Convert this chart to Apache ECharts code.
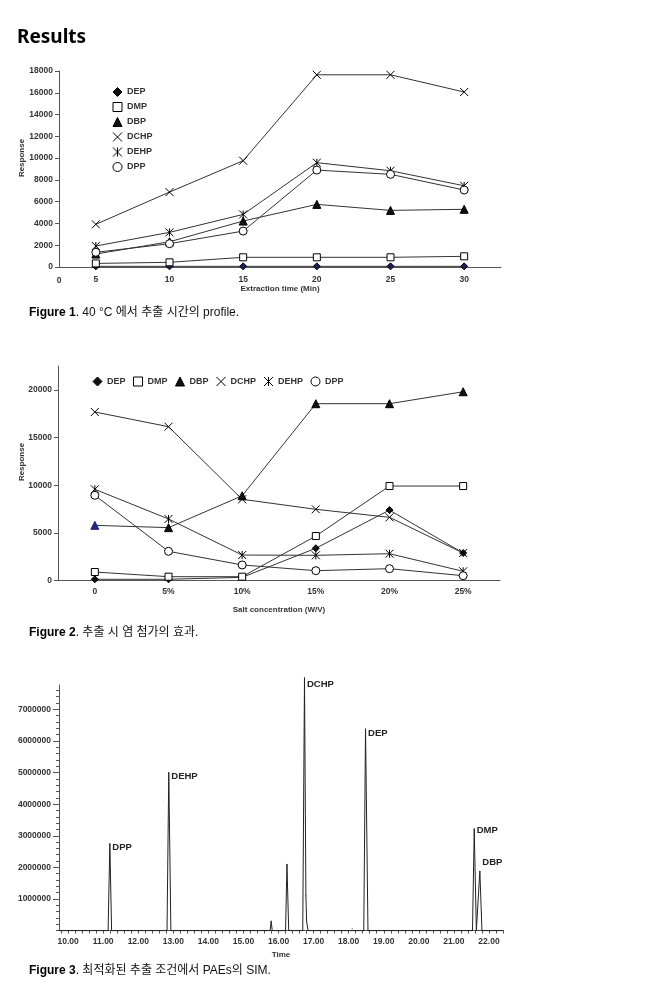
<!DOCTYPE html>
<html><head><meta charset="utf-8">
<script src="https://cdn.jsdelivr.net/npm/echarts@6/dist/echarts.min.js"></script>
<style>html,body{margin:0;padding:0;background:#fff}#c{width:650px;height:999px}</style>
</head><body><div id="c"></div>
<script>
// ---------- DATA ----------
const compounds = ['DEP', 'DMP', 'DBP', 'DCHP', 'DEHP', 'DPP'];

// Figure 1: extraction time profile at 40 °C
const timeCats = ['5', '10', '15', '20', '25', '30'];
const timeDEP  = [60, 60, 60, 60, 60, 60];
const timeDMP  = [330, 430, 890, 890, 890, 980];
const timeDBP  = [1190, 2320, 4220, 5750, 5200, 5300];
const timeDCHP = [3920, 6880, 9760, 17650, 17650, 16070];
const timeDEHP = [1930, 3180, 4830, 9580, 8840, 7460];
const timeDPP  = [1350, 2140, 3300, 8900, 8510, 7070];

// Figure 2: salt concentration effect
const saltCats = ['0', '5%', '10%', '15%', '20%', '25%'];
const saltDEP  = [150, 150, 350, 3400, 7400, 2900];
const saltDMP  = [910, 420, 420, 4680, 9920, 9920];
const saltDBP  = [5800, 5560, 8900, 18550, 18550, 19800];
const saltDCHP = [17680, 16140, 8530, 7480, 6640, 2900];
const saltDEHP = [9580, 6470, 2690, 2660, 2830, 985];
const saltDPP  = [8950, 3080, 1650, 1050, 1260, 525];
const saltYTicks = [0, 5000, 10000, 15000, 20000];

// Figure 3: SIM chromatogram (time in min, abundance)
const chromTime  = [9.74, 11.14, 11.19, 11.24, 12.82, 12.87, 12.93, 15.76, 15.79, 15.82, 16.20, 16.24, 16.29,
                    16.69, 16.74, 16.78, 16.80, 16.84, 18.08, 18.10, 18.12, 18.43, 18.48, 18.55,
                    21.53, 21.58, 21.64, 21.69, 21.74, 21.80, 22.40];
const chromValue = [0, 0, 2750000, 0, 0, 5000000, 0, 0, 300000, 0, 0, 2100000, 0,
                    0, 8000000, 1100000, 300000, 0, 0, 60000, 0, 0, 6380000, 0,
                    0, 3220000, 0, 0, 1880000, 0, 0];
const chromLabel = ['', '', 'DPP', '', '', 'DEHP', '', '', '', '', '', '', '',
                    '', 'DCHP', '', '', '', '', '', '', '', 'DEP', '',
                    '', 'DMP', '', '', 'DBP', '', ''];
const chromXLabels = [10, 11, 12, 13, 14, 15, 16, 17, 18, 19, 20, 21, 22];
const chromYLabels = [1000000, 2000000, 3000000, 4000000, 5000000, 6000000, 7000000];

// ---------- STYLE ----------
const FONT = '"Liberation Sans Narrow", "Liberation Sans", "Noto Sans CJK KR", sans-serif';
const CAPFONT = '"Liberation Sans Narrow", "Liberation Sans", "Noto Sans CJK KR", sans-serif';
const TXT = '#333';
const AX = '#555';
const SYM = {
  DEP: 'diamond', DMP: 'rect', DBP: 'triangle',
  DCHP: 'path://M0,0L10,10M10,0L0,10',
  DEHP: 'path://M0,0L10,10M10,0L0,10M5,0L5,10',
  DPP: 'circle'
};
const FILL = { DEP: '#111', DMP: '#fff', DBP: '#111', DCHP: '#000', DEHP: '#000', DPP: '#fff' };
const SIZE = { DEP: 7, DMP: 7, DBP: 8, DCHP: 8, DEHP: 8, DPP: 8 };

function lineSeries(name, data, idx, fillOverride) {
  return {
    type: 'line', name, data, xAxisIndex: idx, yAxisIndex: idx,
    symbol: SYM[name], symbolSize: SIZE[name], showSymbol: true,
    itemStyle: { color: fillOverride || FILL[name], borderColor: '#000', borderWidth: 1 },
    lineStyle: { color: '#333', width: 1 },
    emphasis: { disabled: true }, animation: false, clip: false
  };
}
function legendData() {
  return compounds.map(n => ({
    name: n, icon: SYM[n],
    itemStyle: { color: FILL[n], borderColor: '#000', borderWidth: 1 }
  }));
}
const axisTxt = { color: TXT, fontFamily: FONT, fontWeight: 'bold', fontSize: 8.5 };
const nameTxt = { color: TXT, fontFamily: FONT, fontWeight: 'bold', fontSize: 8 };

const chromTicks = [];
for (let v = 9.8; v <= 22.4001; v += 0.2) chromTicks.push(+v.toFixed(1));
const chromYMinor = [];
for (let v = 0; v <= 7700000; v += 200000) chromYMinor.push(v);

const chromData = chromTime.map((t, i) => {
  const lab = chromLabel[i];
  if (!lab) return [t, chromValue[i]];
  return { value: [t, chromValue[i]], label: { show: true, formatter: lab } };
});
const peakLabelOffset = { DPP: [0, 4], DEHP: [0, 4], DCHP: [0, 7], DEP: [0, 4], DMP: [0, 2], DBP: [0, -9] };
chromData.forEach((d, i) => {
  if (d.label) d.label.offset = peakLabelOffset[chromLabel[i]];
});

const gridCommon = { containLabel: false, outerBoundsMode: 'none' };

const chart = echarts.init(document.getElementById('c'), null, { renderer: 'canvas' });
chart.setOption({
  animation: false,
  backgroundColor: '#fff',
  textStyle: { fontFamily: FONT },
  grid: [
    { ...gridCommon, left: 59, top: 71, width: 442, height: 196 },
    { ...gridCommon, left: 58, top: 366, width: 442, height: 214.7 },
    { ...gridCommon, left: 59, top: 685, width: 444, height: 245.6 }
  ],
  legend: [
    { orient: 'vertical', left: 107.5, top: 82, itemWidth: 9, itemHeight: 9, itemGap: 5,
      textStyle: { color: TXT, fontFamily: FONT, fontWeight: 'bold', fontSize: 9 },
      data: legendData(), selectedMode: false },
    { orient: 'horizontal', left: 87.5, top: 371.5, itemWidth: 9, itemHeight: 9, itemGap: 7.5,
      textStyle: { color: TXT, fontFamily: FONT, fontWeight: 'bold', fontSize: 9 },
      data: legendData(), selectedMode: false }
  ],
  xAxis: [
    { gridIndex: 0, type: 'category', data: timeCats, boundaryGap: true,
      axisLine: { lineStyle: { color: AX } }, axisTick: { alignWithLabel: true, length: 3, lineStyle: { color: AX } },
      axisLabel: { ...axisTxt, margin: 8 },
      name: 'Extraction time (Min)', nameLocation: 'middle', nameGap: 17, nameTextStyle: nameTxt },
    { gridIndex: 1, type: 'category', data: saltCats, boundaryGap: true,
      axisLine: { lineStyle: { color: AX } }, axisTick: { alignWithLabel: true, length: 3, lineStyle: { color: AX } },
      axisLabel: { ...axisTxt, margin: 7 },
      name: 'Salt concentration (W/V)', nameLocation: 'middle', nameGap: 25, nameTextStyle: nameTxt },
    { gridIndex: 2, type: 'value', min: 9.74, max: 22.40, splitLine: { show: false },
      axisLine: { lineStyle: { color: AX } },
      axisTick: { customValues: chromTicks, length: 3, lineStyle: { color: AX } },
      axisLabel: { ...axisTxt, margin: 7, customValues: chromXLabels, formatter: v => Number(v).toFixed(2) },
      name: 'Time', nameLocation: 'middle', nameGap: 20, nameTextStyle: nameTxt }
  ],
  yAxis: [
    { gridIndex: 0, type: 'value', min: 0, max: 18000, interval: 2000, splitLine: { show: false },
      axisLine: { show: true, lineStyle: { color: AX } }, axisTick: { show: true, length: 4, lineStyle: { color: AX } },
      axisLabel: { ...axisTxt, margin: 6, formatter: v => String(v) } },
    { gridIndex: 1, type: 'value', min: 0, max: 22500, splitLine: { show: false },
      axisLine: { show: true, lineStyle: { color: AX } },
      axisTick: { show: true, length: 4, customValues: saltYTicks, lineStyle: { color: AX } },
      axisLabel: { ...axisTxt, margin: 6, customValues: saltYTicks, formatter: v => String(v) } },
    { gridIndex: 2, type: 'value', position: 'left', min: 0, max: 7770000, splitLine: { show: false },
      axisLine: { show: true, lineStyle: { color: AX } },
      axisTick: { show: true, length: 6, customValues: chromYLabels, lineStyle: { color: AX } },
      axisLabel: { ...axisTxt, margin: 8, customValues: chromYLabels, formatter: v => String(v) } },
    { gridIndex: 2, type: 'value', position: 'left', offset: 0, min: 0, max: 7770000, splitLine: { show: false },
      axisLine: { show: false },
      axisTick: { show: true, length: 3, customValues: chromYMinor, lineStyle: { color: AX } },
      axisLabel: { show: false } }
  ],
  series: [
    lineSeries('DEP', timeDEP, 0, '#1b1f5c'),
    lineSeries('DMP', timeDMP, 0),
    lineSeries('DBP', timeDBP, 0),
    lineSeries('DCHP', timeDCHP, 0),
    lineSeries('DEHP', timeDEHP, 0),
    lineSeries('DPP', timeDPP, 0),
    lineSeries('DEP', saltDEP, 1),
    lineSeries('DMP', saltDMP, 1),
    lineSeries('DBP', saltDBP.map((v, i) => i === 0 ? { value: v, itemStyle: { color: '#1f2a78', borderColor: '#1f2a78' } } : v), 1),
    lineSeries('DCHP', saltDCHP, 1),
    lineSeries('DEHP', saltDEHP, 1),
    lineSeries('DPP', saltDPP, 1),
    {
      type: 'line', name: 'SIM', data: chromData, xAxisIndex: 2, yAxisIndex: 2,
      symbol: 'circle', symbolSize: 1, showSymbol: true, clip: false,
      itemStyle: { color: '#222' },
      lineStyle: { color: '#222', width: 1 },
      label: { position: 'right', distance: 2, color: '#222', fontFamily: FONT, fontWeight: 'bold', fontSize: 9.5 },
      emphasis: { disabled: true }, animation: false
    }
  ],
  graphic: [
    { type: 'text', left: 17, top: 28, style: { text: 'Results', fontFamily: '"Noto Sans", sans-serif', fontWeight: 'bold', fontSize: 19, fill: '#000' } },
    { type: 'text', x: 59, y: 281, style: { text: '0', fontFamily: FONT, fontWeight: 'bold', fontSize: 8.5, fill: TXT, align: 'center', verticalAlign: 'middle' } },
    { type: 'text', x: 22, y: 158, rotation: Math.PI / 2, style: { text: 'Response', fontFamily: FONT, fontWeight: 'bold', fontSize: 8, fill: TXT, align: 'center', verticalAlign: 'middle' } },
    { type: 'text', x: 22, y: 462, rotation: Math.PI / 2, style: { text: 'Response', fontFamily: FONT, fontWeight: 'bold', fontSize: 8, fill: TXT, align: 'center', verticalAlign: 'middle' } },
    { type: 'text', x: 29, y: 313, style: { text: '{b|Figure 1}. 40 °C 에서 추출 시간의 profile.', fontFamily: CAPFONT, fontSize: 12, fill: '#111', verticalAlign: 'middle',
      rich: { b: { fontFamily: CAPFONT, fontWeight: 'bold', fontSize: 12, fill: '#000' } } } },
    { type: 'text', x: 29, y: 633, style: { text: '{b|Figure 2}. 추출 시 염 첨가의 효과.', fontFamily: CAPFONT, fontSize: 12, fill: '#111', verticalAlign: 'middle',
      rich: { b: { fontFamily: CAPFONT, fontWeight: 'bold', fontSize: 12, fill: '#000' } } } },
    { type: 'text', x: 29, y: 971, style: { text: '{b|Figure 3}. 최적화된 추출 조건에서 PAEs의 SIM.', fontFamily: CAPFONT, fontSize: 12, fill: '#111', verticalAlign: 'middle',
      rich: { b: { fontFamily: CAPFONT, fontWeight: 'bold', fontSize: 12, fill: '#000' } } } }
  ]
});
</script>
</body></html>
